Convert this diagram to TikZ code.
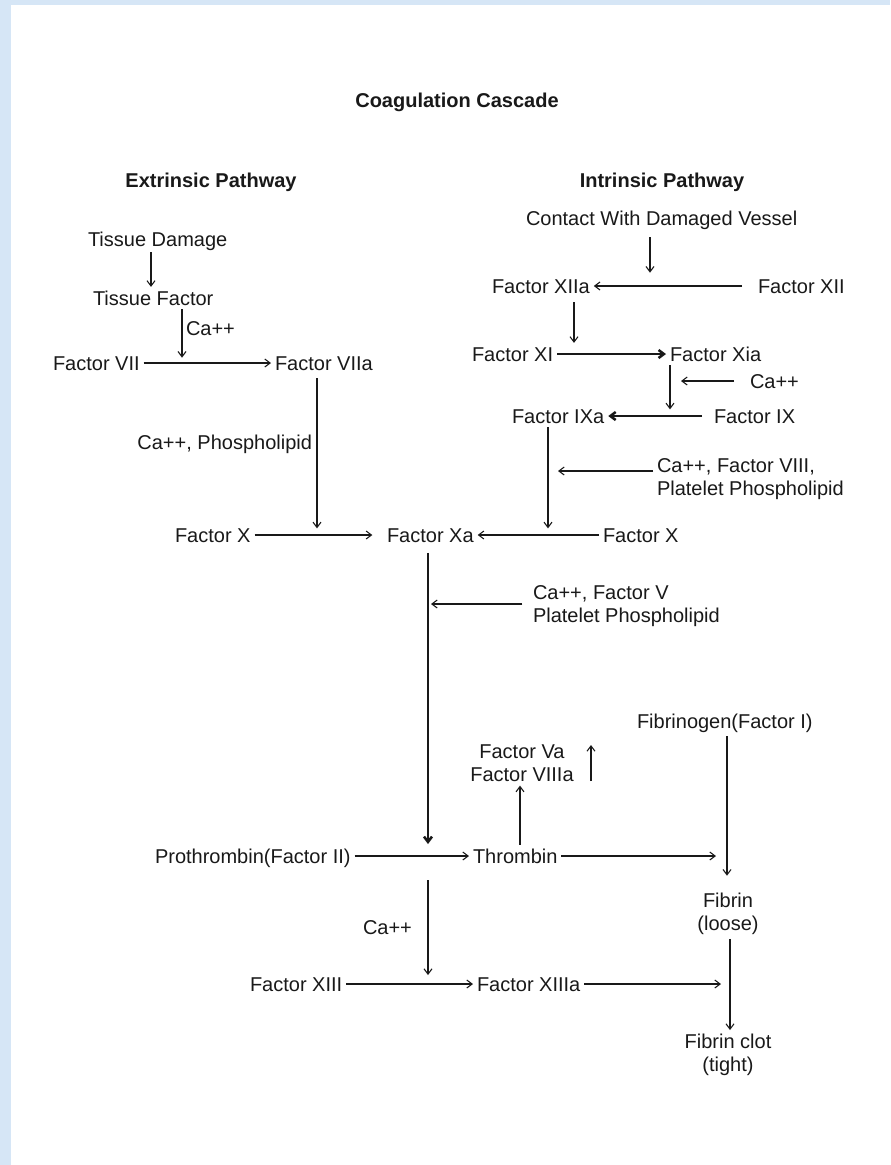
\documentclass[tikz,border=0pt]{standalone}
\usepackage{fontspec}
\setmainfont{Liberation Sans}
\usetikzlibrary{arrows.meta}
\definecolor{bgblue}{RGB}{214,230,246}
\begin{document}
\begin{tikzpicture}[x=0.75pt,y=-0.75pt,
  txt/.style={font=\fontsize{15}{17.5}\selectfont, inner sep=0pt, outer sep=3pt, text height=10.7pt, text depth=0pt, anchor=west, text=black!90},
  hdr/.style={font=\fontsize{15}{17.5}\selectfont\bfseries, inner sep=0pt, yshift=-1.5pt, text=black!90},
  ml/.style={font=\fontsize{15}{17.5}\selectfont, inner sep=0pt, outer sep=3pt, align=center, yshift=-1.5pt, text=black!90},
  ar/.style={-{Straight Barb[length=4pt,width=6pt]}, line width=0.8pt, draw=black!90},
  thk/.style={-{Straight Barb[length=4pt,width=6pt]}, line width=1.9pt, draw=black!90}
]
\fill[white] (0,0) rectangle (890,1165);
\fill[bgblue] (0,0) rectangle (11,1165);
\fill[bgblue] (0,0) rectangle (890,5);
\useasboundingbox (0,0) rectangle (890,1165);

\node[hdr] (title) at (457,100) {Coagulation Cascade};
\node[hdr] (ext) at (211,180) {Extrinsic Pathway};
\node[hdr] (intr) at (662,180) {Intrinsic Pathway};

\node[txt] (td) at (84,239) {Tissue Damage};
\node[txt] (tf) at (89,298) {Tissue Factor};
\node[txt] (ca1) at (182,328) {Ca++};
\node[txt] (f7) at (49,363) {Factor VII};
\node[txt] (f7a) at (271,363) {Factor VIIa};
\node[txt, anchor=east] (cap) at (316,442) {Ca++, Phospholipid};
\node[txt] (fx1) at (171,535) {Factor X};
\node[txt] (fxa) at (383,535) {Factor Xa};
\node[txt] (fx2) at (599,535) {Factor X};
\node[txt] (cdv) at (522,218) {Contact With Damaged Vessel};
\node[txt] (f12a) at (488,286) {Factor XIIa};
\node[txt] (f12) at (754,286) {Factor XII};
\node[txt] (f11) at (468,354) {Factor XI};
\node[txt] (f11a) at (666,354) {Factor Xia};
\node[txt] (ca2) at (746,381) {Ca++};
\node[txt] (f9a) at (508,416) {Factor IXa};
\node[txt] (f9) at (710,416) {Factor IX};
\node[ml, anchor=west, align=left] (cf8) at (653,477) {Ca++, Factor VIII,\\Platelet Phospholipid};
\node[ml, anchor=west, align=left] (cf5) at (529,604) {Ca++, Factor V\\Platelet Phospholipid};
\node[txt] (fg) at (633,721) {Fibrinogen(Factor I)};
\node[ml] (va) at (522,761) {Factor Va\\Factor VIIIa};
\node[txt] (pt) at (151,856) {Prothrombin(Factor II)};
\node[txt] (th) at (469,856) {Thrombin};
\node[ml] (fb) at (728,912) {Fibrin\\(loose)};
\node[txt] (ca3) at (359,927) {Ca++};
\node[txt] (f13) at (246,984) {Factor XIII};
\node[txt] (f13a) at (473,984) {Factor XIIIa};
\node[ml] (fc) at (728,1053) {Fibrin clot\\(tight)};

% x positions of the vertical connectors
\coordinate (xa1) at (151,0);
\coordinate (xj1) at (182,0);
\coordinate (xj2) at (317,0);
\coordinate (xj3) at (650,0);
\coordinate (xa2) at (574,0);
\coordinate (xj4) at (670,0);
\coordinate (xj5) at (681,0);
\coordinate (xj6) at (548,0);
\coordinate (xj8) at (428,0);
\coordinate (xa3) at (520,0);
\coordinate (xa4) at (727,0);
\coordinate (xa5) at (730,0);
\coordinate (xj10) at (716,0);
\coordinate (xj13) at (721,0);
\coordinate (j7) at (558,471);
\coordinate (j9) at (431,604);
\coordinate (u1) at (591,781);
\coordinate (u2) at (591,745);
\coordinate (j11) at (428,880);
\coordinate (j12) at (428,975);

\draw[ar, shorten <=1.5pt] (td.south -| xa1) -- (tf.north -| xa1);
\draw[ar, shorten >=4pt] (tf.south -| xj1) -- (xj1 |- f7.east);
\draw[ar] (f7.east) -- (f7a.west);
\draw[ar, shorten <=3pt, shorten >=5pt] (f7a.south -| xj2) -- (xj2 |- fx1.east);
\draw[ar, shorten >=8pt] (fx1.east) -- (fxa.west);
\draw[ar] (fx2.west) -- (fxa.east);
\draw[ar, shorten <=6pt, shorten >=10pt] (cdv.south -| xj3) -- (xj3 |- f12.west);
\draw[ar, shorten <=9pt] (f12.west) -- (f12a.east);
\draw[ar, shorten <=4pt] (f12a.south -| xa2) -- (f11.north -| xa2);
\draw[thk] (f11.east) -- (f11a.west);
\draw[ar, shorten >=5pt] (f11a.south -| xj4) -- (xj4 |- f9.west);
\draw[ar, shorten <=9pt] (ca2.west) -- (ca2.west -| xj5);
\draw[thk, shorten <=6pt] (f9.west) -- (f9a.east);
\draw[ar, shorten >=5pt] (f9a.south -| xj6) -- (xj6 |- fx2.west);
\draw[ar] (cf8.west |- j7) -- (j7);
\draw[thk, shorten <=5pt, shorten >=9pt] (fxa.south -| xj8) -- (xj8 |- pt.east);
\draw[ar, shorten <=5pt] (cf5.west |- j9) -- (j9);
\draw[ar] (pt.east) -- (th.west);
\draw[ar] (th.north -| xa3) -- (va.south -| xa3);
\draw[ar] (u1) -- (u2);
\draw[ar] (th.east) -- (th.east -| xj10);
\draw[ar, shorten <=3pt, shorten >=10pt] (fg.south -| xa4) -- (fb.north -| xa4);
\draw[ar] (j11) -- (j12);
\draw[ar] (f13.east) -- (f13a.west);
\draw[ar] (f13a.east) -- (f13a.east -| xj13);
\draw[ar] (fb.south -| xa5) -- (fc.north -| xa5);
\end{tikzpicture}
\end{document}
